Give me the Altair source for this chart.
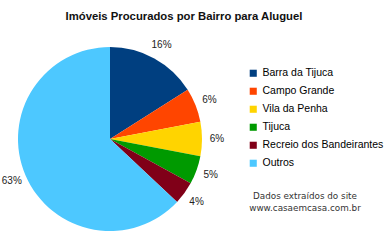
import altair as alt
import pandas as pd

categories = ["Barra da Tijuca", "Campo Grande", "Vila da Penha", "Tijuca",
              "Recreio dos Bandeirantes", "Outros"]
values = [16, 6, 6, 5, 4, 63]
labels = ["16%", "6%", "6%", "5%", "4%", "63%"]
colors = ["#003f80", "#ff4500", "#ffd400", "#009a00", "#800018", "#4dc8ff"]
title_text = "Imóveis Procurados por Bairro para Aluguel"
footer_lines = ["Dados extraídos do site", "www.casaemcasa.com.br"]

df = pd.DataFrame({"cat": categories, "val": values, "lab": labels,
                   "order": list(range(len(categories)))})

CX, CY, R = 110, 139, 92

base = alt.Chart(df).encode(
    theta=alt.Theta("val:Q", stack=True),
    order=alt.Order("order:Q"),
)

arcs = base.mark_arc(outerRadius=R).encode(
    x=alt.value(CX), y=alt.value(CY),
    color=alt.Color("cat:N", scale=alt.Scale(domain=categories, range=colors),
                    sort=categories,
                    legend=alt.Legend(title=None, orient="none", legendX=248, legendY=68,
                                      symbolType="square", symbolSize=50,
                                      symbolStrokeWidth=0, labelLimit=200, labelOffset=4,
                                      labelFont="Liberation Sans", labelFontSize=10.5,
                                      labelColor="#000", rowPadding=7)),
)

texts = base.mark_text(radius=R + 15, font="Liberation Sans", fontSize=10,
                       color="#222").encode(
    x=alt.value(CX), y=alt.value(CY), text="lab:N")

title = alt.Chart(pd.DataFrame({"t": [title_text]})).mark_text(
    font="Liberation Sans", fontSize=11.3, fontWeight="bold", color="#111",
    align="center", baseline="middle").encode(
    x=alt.value(184), y=alt.value(17), text="t:N")

footer_layers = []
for i, line in enumerate(footer_lines):
    footer_layers.append(
        alt.Chart(pd.DataFrame({"t": [line]})).mark_text(
            font="DejaVu Sans", fontSize=8.8, color="#333",
            align="center", baseline="middle").encode(
            x=alt.value(305), y=alt.value(196 + 12 * i), text="t:N")
    )

chart = alt.layer(arcs, texts, title, *footer_layers).properties(
    width=385, height=240, autosize="none", padding=0
).resolve_scale(theta="independent").configure_view(stroke=None)

chart.save("out.html", embed_options={"renderer": "svg", "actions": False})
